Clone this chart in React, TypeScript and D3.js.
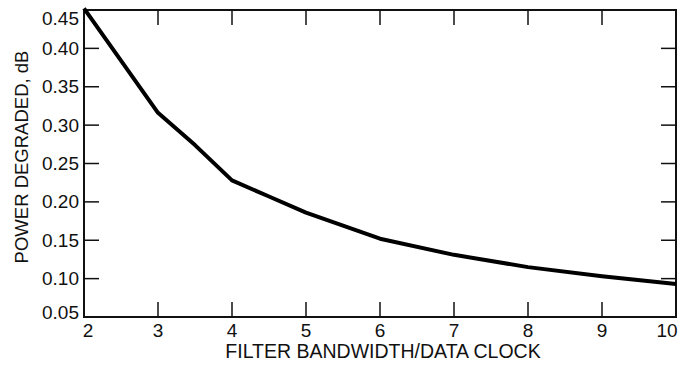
import React from 'react';
import * as d3 from 'd3';

// filter bandwidth / data clock ratio
const ratios = [2, 3, 3.5, 4, 4.5, 5, 6, 7, 8, 9, 10];
// power degraded, dB
const degraded = [0.452, 0.316, 0.274, 0.228, 0.207, 0.186, 0.152, 0.131, 0.115, 0.103, 0.093];

const xTicks = [2, 3, 4, 5, 6, 7, 8, 9, 10];
const yTicks = [0.05, 0.1, 0.15, 0.2, 0.25, 0.3, 0.35, 0.4, 0.45];

const xTitle = 'FILTER BANDWIDTH/DATA CLOCK';
const yTitle = 'POWER DEGRADED, dB';

export default function App() {
    const width = 679;
    const height = 375;
    const left = 84, right = 676, top = 10, bottom = 317;
    const tickLen = 15;
    const font = 'Liberation Sans, Arial, Helvetica, sans-serif';

    const x = d3.scaleLinear().domain([2, 10]).range([left, right]);
    const y = d3.scaleLinear().domain([0.05, 0.45]).range([bottom, top]);

    const line = d3.line<number>()
        .x((d, i) => x(ratios[i]))
        .y(d => y(d))(degraded);

    // keep the end labels inside the frame like the original
    const clampX = (v: number) => Math.max(left + 4, Math.min(right - 9, v));
    const clampY = (v: number) => Math.max(top + 8, Math.min(bottom - 5, v));

    return (
        <svg width={width} height={height} style={{ position: 'absolute', left: 0, top: 0, background: 'white' }}>
            <g stroke="#111" strokeWidth={1.5}>
                {xTicks.slice(1, -1).map(t => (
                    <g key={'xt' + t}>
                        <line x1={x(t)} x2={x(t)} y1={bottom} y2={bottom - tickLen} />
                        <line x1={x(t)} x2={x(t)} y1={top} y2={top + tickLen} />
                    </g>
                ))}
                {yTicks.slice(1, -1).map(t => (
                    <g key={'yt' + t}>
                        <line x1={left} x2={left + tickLen} y1={y(t)} y2={y(t)} />
                        <line x1={right} x2={right - tickLen} y1={y(t)} y2={y(t)} />
                    </g>
                ))}
            </g>
            <rect x={left} y={top} width={right - left} height={bottom - top} fill="none" stroke="#111" strokeWidth={2} />
            <path d={line || ''} fill="none" stroke="#000" strokeWidth={4} strokeLinejoin="round" />
            <g fontFamily={font} fill="#111">
                {yTicks.map(t => (
                    <text key={'yl' + t} x={left - 5} y={clampY(y(t))} fontSize={19} textAnchor="end" dominantBaseline="central">
                        {t.toFixed(2)}
                    </text>
                ))}
                {xTicks.map(t => (
                    <text key={'xl' + t} x={clampX(x(t))} y={330} fontSize={19} textAnchor="middle" dominantBaseline="central">
                        {t}
                    </text>
                ))}
                <text x={383} y={351} fontSize={19.5} textAnchor="middle" dominantBaseline="central">{xTitle}</text>
                <text transform={`translate(21,157) rotate(-90)`} fontSize={18.5} textAnchor="middle" dominantBaseline="central">{yTitle}</text>
            </g>
        </svg>
    );
}
